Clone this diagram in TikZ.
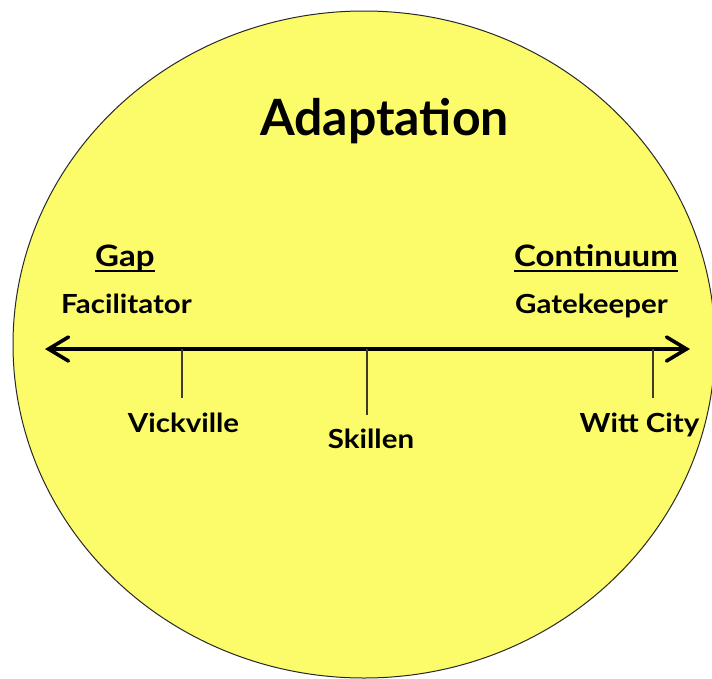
\documentclass[tikz,border=0pt]{standalone}
\usepackage{fontspec}
\setmainfont{Lato}[BoldFont={Lato Bold}]
\newfontfamily\widefont{Lato Bold}[FakeStretch=1.12]
\usetikzlibrary{arrows.meta}
\definecolor{bgyellow}{RGB}{252,251,106}
\definecolor{rimgray}{RGB}{40,40,40}
\definecolor{tickgray}{RGB}{60,60,40}
\tikzset{
  lbl/.style={inner sep=0pt},
  title/.style={lbl, font=\fontsize{50}{60}\selectfont\bfseries},
  head/.style={lbl, font=\widefont\fontsize{29.5}{34}\selectfont},
  role/.style={lbl, font=\widefont\fontsize{26.3}{30}\selectfont},
  town/.style={lbl, font=\widefont\fontsize{26.3}{31}\selectfont},
  axis/.style={line width=3.6pt, {Straight Barb[length=20pt,width=24pt,line cap=round]}-{Straight Barb[length=20pt,width=24pt,line cap=round]}},
  tickline/.style={line width=1.3pt, draw=tickgray},
  uline/.style={line width=1.5pt},
}
\begin{document}
\begin{tikzpicture}[x=1pt,y=-1pt]
\useasboundingbox (0,0) rectangle (712,678);
\draw[fill=bgyellow, draw=rimgray, line width=1pt] (364,344.5) ellipse [x radius=351, y radius=333.5];

\node[title, anchor=base] (adapt) at (384.5,135) {Adaptation};

\node[head, anchor=base west] (gap) at (95,266) {Gap};
\draw[uline] ([yshift=-5pt]gap.base west) -- ([yshift=-5pt]gap.base east);
\node[head, anchor=base west] (cont) at (514,266) {Continuum};
\draw[uline] ([yshift=-5pt]cont.base west) -- ([yshift=-5pt]cont.base east);

\node[role, anchor=base west] (fac) at (61,313) {Facilitator};
\node[role, anchor=base west] (gate) at (515,313) {Gatekeeper};

\coordinate (left) at (45,349);
\coordinate (right) at (690,349);
\draw[axis] (left) -- (right);

\coordinate (t1) at (182,349);
\coordinate (t1b) at (182,398);
\coordinate (t2) at (367,349);
\coordinate (t2b) at (367,415);
\coordinate (t3) at (653,349);
\coordinate (t3b) at (653,398);
\draw[tickline] (t1) -- (t1b);
\draw[tickline] (t2) -- (t2b);
\draw[tickline] (t3) -- (t3b);

\node[town, anchor=base] (vick) at (183.5,432) {Vickville};
\node[town, anchor=base] (skil) at (371,448) {Skillen};
\node[town, anchor=base] (witt) at (639.5,432) {Witt City};
\end{tikzpicture}
\end{document}
